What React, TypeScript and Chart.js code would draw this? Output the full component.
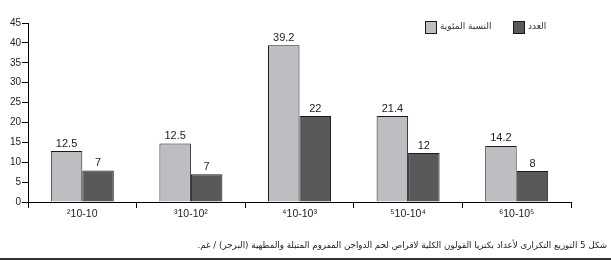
import React, { useEffect, useRef } from "react";
import { Chart, registerables } from "chart.js";

Chart.register(...registerables);

const categories = ["²10-10", "³10-10²", "⁴10-10³", "⁵10-10⁴", "⁶10-10⁵"];
const percentName = "النسبة المئوية";
const countName = "العدد";
const percentValues = [12.8, 14.7, 39.4, 21.6, 14.1];
const countValues = [7.9, 7.0, 21.6, 12.3, 7.8];
const percentLabels = ["12.5", "12.5", "39.2", "21.4", "14.2"];
const countLabels = ["7", "7", "22", "12", "8"];
const yTicks = [0, 5, 10, 15, 20, 25, 30, 35, 40, 45];
const caption =
  "شكل 5 التوزيع التكرارى لأعداد بكتريا القولون الكلية لاقراص لحم الدواجن المفروم المتبلة والمطهية (البرجر) / غم.";

const GRAY = "#bdbec1";
const DARK = "#59595b";
const ARABIC_FONT = "'DejaVu Sans', sans-serif";
const NUM_FONT = "'Liberation Sans', Arial, sans-serif";

const labelsArr = [percentLabels, countLabels];

const overlayPlugin = {
  id: "overlay",
  afterDatasetsDraw(chart: any) {
    const ctx = chart.ctx as CanvasRenderingContext2D;
    ctx.save();
    // data labels
    ctx.font = `11px ${NUM_FONT}`;
    ctx.fillStyle = "#222";
    ctx.textAlign = "center";
    ctx.textBaseline = "bottom";
    chart.data.datasets.forEach((ds: any, di: number) => {
      const meta = chart.getDatasetMeta(di);
      meta.data.forEach((bar: any, i: number) => {
        ctx.fillText(labelsArr[di][i], bar.x, bar.y - 2);
      });
    });

    // legend
    const items = [
      { x: 425, color: GRAY, text: percentName },
      { x: 513, color: DARK, text: countName },
    ];
    items.forEach((it) => {
      ctx.fillStyle = it.color;
      ctx.fillRect(it.x, 21, 11, 12);
      ctx.strokeStyle = "#1a1a1a";
      ctx.lineWidth = 1;
      ctx.strokeRect(it.x + 0.5, 21.5, 11, 12);
      ctx.fillStyle = "#333";
      ctx.font = `9px ${ARABIC_FONT}`;
      ctx.textAlign = "left";
      ctx.textBaseline = "middle";
      ctx.fillText(it.text, it.x + 15, 27);
    });

    // caption
    ctx.direction = "rtl";
    ctx.textAlign = "right";
    ctx.textBaseline = "middle";
    ctx.fillStyle = "#222";
    ctx.font = `8.7px ${ARABIC_FONT}`;
    ctx.fillText(caption, 607, 246);

    // bottom rule
    ctx.fillStyle = "#333";
    ctx.fillRect(0, 258, 611, 2);
    ctx.restore();
  },
};

export default function App() {
  const ref = useRef<HTMLCanvasElement | null>(null);
  useEffect(() => {
    if (!ref.current) return;
    const chart = new Chart(ref.current, {
      type: "bar",
      data: {
        labels: categories,
        datasets: [
          {
            label: percentName,
            data: percentValues,
            backgroundColor: GRAY,
            borderColor: "#1a1a1a",
            borderWidth: 1,
            categoryPercentage: 0.58,
            barPercentage: 1,
          },
          {
            label: countName,
            data: countValues,
            backgroundColor: DARK,
            borderColor: "#1a1a1a",
            borderWidth: 1,
            categoryPercentage: 0.58,
            barPercentage: 1,
          },
        ],
      },
      options: {
        animation: false,
        responsive: false,
        devicePixelRatio: 1,
        layout: { padding: { left: 0, right: 40, top: 23, bottom: 0 } },
        plugins: {
          legend: { display: false },
          tooltip: { enabled: false },
          title: { display: false },
        },
        scales: {
          x: {
            grid: {
              display: true,
              drawOnChartArea: false,
              drawTicks: true,
              tickLength: 6,
              color: "#000",
              offset: true,
            },
            border: { display: true, color: "#000", width: 1 },
            ticks: {
              color: "#222",
              font: { family: NUM_FONT, size: 10.5 },
              padding: 0,
              maxRotation: 0,
            },
            afterFit: (s: any) => {
              s.height = 59;
            },
          },
          y: {
            min: 0,
            max: 45,
            afterBuildTicks: (s: any) => {
              s.ticks = yTicks.map((v) => ({ value: v }));
            },
            grid: {
              display: true,
              drawOnChartArea: false,
              drawTicks: true,
              tickLength: 6,
              color: "#000",
            },
            border: { display: true, color: "#000", width: 1 },
            ticks: {
              color: "#222",
              font: { family: NUM_FONT, size: 10 },
              padding: 1,
            },
            afterFit: (s: any) => {
              s.width = 28;
            },
          },
        },
      },
      plugins: [overlayPlugin],
    });
    return () => chart.destroy();
  }, []);
  return (
    <div style={{ position: "absolute", left: 0, top: 0, width: 611, height: 261, background: "#fff" }}>
      <canvas ref={ref} width={611} height={261} style={{ width: 611, height: 261, display: "block" }} />
    </div>
  );
}
